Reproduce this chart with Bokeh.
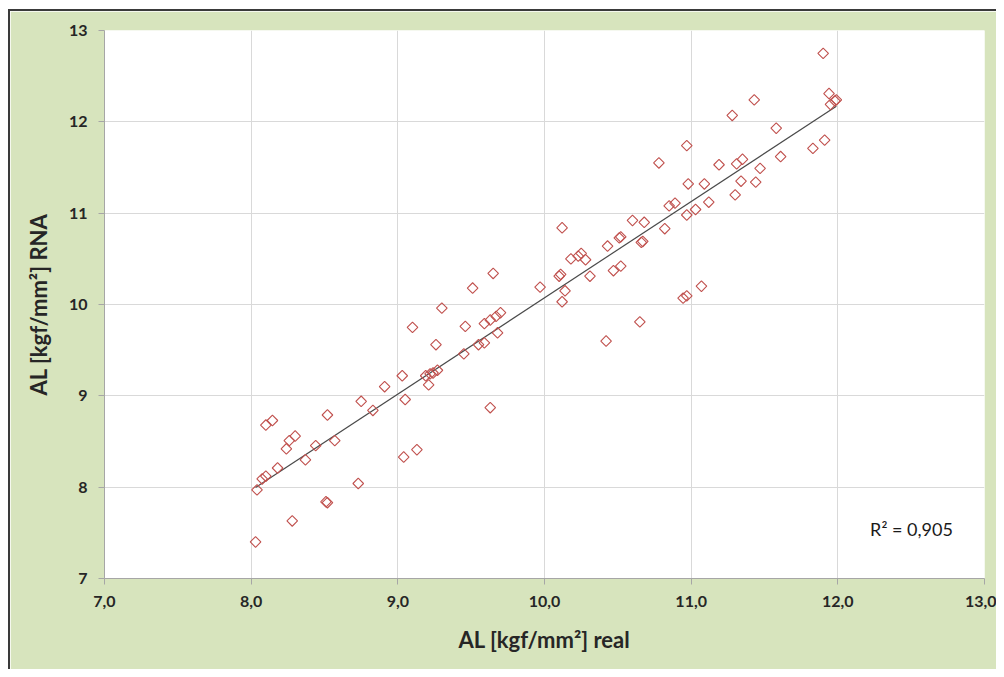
import numpy as np
from bokeh.plotting import figure
from bokeh.models import ColumnDataSource, FixedTicker, Label
from bokeh.embed import file_html
from bokeh.resources import INLINE

# ---- data ----
al_real = [8.03, 8.04, 8.075, 8.10, 8.10, 8.145, 8.18, 8.24, 8.26, 8.30,
           8.28, 8.37, 8.44, 8.51, 8.52, 8.52, 8.57, 8.73, 8.75, 8.83,
           8.91, 9.03, 9.05, 9.04, 9.13, 9.10, 9.19, 9.22, 9.24, 9.27,
           9.21, 9.26, 9.30, 9.45, 9.46, 9.51, 9.55, 9.59, 9.59, 9.63,
           9.67, 9.70, 9.68, 9.65, 9.63, 9.97, 10.10, 10.11, 10.12, 10.14,
           10.12, 10.18, 10.23, 10.25, 10.28, 10.31, 10.42, 10.43, 10.47, 10.51,
           10.52, 10.52, 10.65, 10.66, 10.67, 10.60, 10.68, 10.82, 10.945, 10.97,
           11.07, 11.90, 11.94, 11.95, 11.98, 11.99, 11.43, 11.28, 11.58, 11.91,
           11.83, 11.61, 10.97, 10.78, 11.19, 11.31, 11.35, 11.47, 11.34, 11.44,
           11.30, 10.98, 11.09, 11.12, 11.03, 10.97, 10.85, 10.89]
al_rna = [7.40, 7.97, 8.09, 8.12, 8.68, 8.73, 8.21, 8.42, 8.51, 8.56,
          7.63, 8.30, 8.455, 7.84, 7.83, 8.79, 8.51, 8.04, 8.94, 8.84,
          9.10, 9.22, 8.96, 8.33, 8.41, 9.75, 9.22, 9.24, 9.25, 9.28,
          9.12, 9.56, 9.96, 9.46, 9.76, 10.18, 9.56, 9.58, 9.79, 9.83,
          9.87, 9.91, 9.69, 10.34, 8.87, 10.19, 10.31, 10.33, 10.84, 10.15,
          10.03, 10.50, 10.53, 10.56, 10.49, 10.31, 9.60, 10.64, 10.37, 10.73,
          10.74, 10.42, 9.81, 10.68, 10.69, 10.92, 10.90, 10.83, 10.07, 10.095,
          10.20, 12.75, 12.31, 12.19, 12.23, 12.24, 12.24, 12.07, 11.93, 11.80,
          11.71, 11.62, 11.74, 11.55, 11.53, 11.54, 11.59, 11.49, 11.35, 11.34,
          11.20, 11.32, 11.32, 11.12, 11.04, 10.98, 11.08, 11.11]

x_ticks = [7, 8, 9, 10, 11, 12, 13]
x_tick_labels = ["7,0", "8,0", "9,0", "10,0", "11,0", "12,0", "13,0"]
y_ticks = [7, 8, 9, 10, 11, 12, 13]
y_tick_labels = ["7", "8", "9", "10", "11", "12", "13"]
r2_text = "R\u00b2 = 0,905"
x_title = "AL [kgf/mm\u00b2] real"
y_title = "AL [kgf/mm\u00b2] RNA"

# linear trend line from the data
xa = np.array(al_real)
ya = np.array(al_rna)
slope, intercept = np.polyfit(xa, ya, 1)
trend_x = [xa.min(), xa.max()]
trend_y = [slope * v + intercept for v in trend_x]

FONT = "Lato"
GREEN = "#d7e4bd"

p = figure(width=988, height=660, output_backend="svg", toolbar_location=None,
           x_range=(7, 13), y_range=(7, 13),
           min_border_left=94, min_border_top=19, min_border_right=14,
           min_border_bottom=93)
p.background_fill_color = "white"
p.border_fill_color = GREEN
p.outline_line_color = None
p.styles = {"margin-left": "8px", "margin-top": "9px",
            "border-left": "2px solid #3a3a3a", "border-top": "2px solid #3a3a3a"}

src = ColumnDataSource(dict(x=al_real, y=al_rna))
p.line(trend_x, trend_y, line_color="#4a4a4a", line_width=1.2)
p.scatter("x", "y", source=src, marker="square", size=7.5, angle=np.pi / 4,
          fill_color=None, line_color="#c0504d", line_width=1.1)

for ax, ticks, labels in ((p.xaxis[0], x_ticks, x_tick_labels),
                          (p.yaxis[0], y_ticks, y_tick_labels)):
    ax.ticker = FixedTicker(ticks=ticks)
    ax.major_label_overrides = {t: l for t, l in zip(ticks, labels)}
    ax.minor_tick_line_color = None
    ax.major_tick_in = 0
    ax.major_tick_out = 6
    ax.axis_line_color = "#a6a6a6"
    ax.major_tick_line_color = "#a6a6a6"
    ax.major_label_text_font = FONT
    ax.major_label_text_font_style = "bold"
    ax.major_label_text_font_size = "16px"
    ax.major_label_text_color = "#262626"
    ax.axis_label_text_font = FONT
    ax.axis_label_text_font_style = "bold"
    ax.axis_label_text_font_size = "22px"
    ax.axis_label_text_color = "#262626"

p.xaxis.axis_label = x_title
p.yaxis.axis_label = y_title
p.xaxis.major_label_standoff = 11
p.xaxis.axis_label_standoff = 16
p.yaxis.major_label_standoff = 11
p.yaxis.axis_label_standoff = 14

p.grid.grid_line_color = "#d9d9d9"
p.grid.grid_line_width = 1

p.add_layout(Label(x=12.22, y=7.54, text=r2_text, text_font=FONT,
                   text_font_size="18px", text_color="#1a1a1a",
                   text_baseline="middle", text_align="left"))

open("out.html", "w").write(file_html(p, INLINE))
